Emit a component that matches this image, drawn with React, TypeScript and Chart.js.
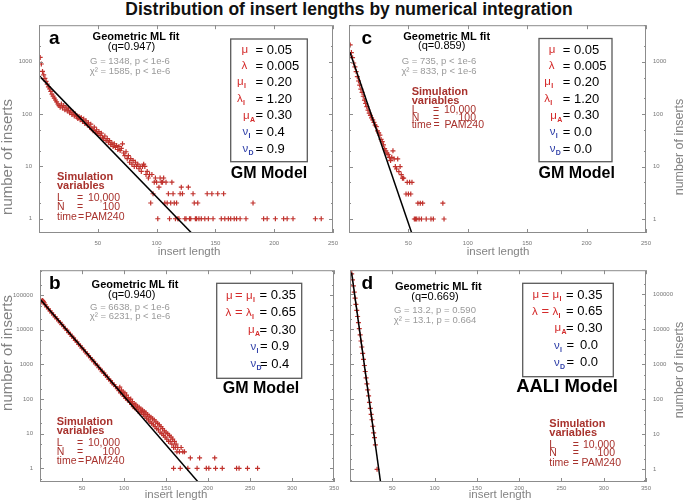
import React, { useEffect, useRef } from 'react';
import { Chart, registerables } from 'chart.js';

Chart.register(...registerables);

const FONT = '"Liberation Sans", Arial, Helvetica, sans-serif';

// ---------------- Panel a ----------------
const aLen = [
  1, 2, 3, 4, 5, 6, 7, 8, 9, 10,
  11, 12, 13, 14, 15, 16, 17, 18, 19, 20,
  21, 22, 23, 24, 25, 26, 27, 28, 29, 30,
  31, 32, 33, 34, 35, 36, 37, 38, 39, 40,
  41, 42, 43, 44, 45, 46, 47, 48, 49, 50,
  51, 52, 53, 54, 55, 56, 57, 58, 59, 60,
  61, 62, 63, 64, 65, 66, 67, 68, 69, 70,
  71, 72, 73, 74, 75, 76, 77, 78, 79, 80,
  81, 82, 83, 84, 85, 86, 87, 88, 89, 90,
  91, 92, 93, 94, 95, 96, 97, 98, 99, 100,
  101, 102, 103, 104, 105, 106, 107, 108, 109, 110,
  111, 112, 113, 114, 115, 116, 117, 118, 119, 120,
  121, 122, 124, 125, 127, 128, 129, 131, 132, 133,
  134, 135, 136, 138, 141, 143, 144, 147, 148, 152,
  155, 157, 158, 161, 163, 166, 168, 171, 176, 182,
  191, 194, 201, 208, 211, 216, 235, 240,
];
const aCount = [
  1200, 900, 650, 560, 480, 420, 370, 330, 300, 270,
  240, 220, 200, 185, 170, 155, 145, 135, 155, 130,
  145, 120, 135, 115, 125, 105, 115, 98, 108, 92,
  100, 88, 82, 90, 78, 85, 72, 80, 66, 74,
  62, 68, 56, 64, 52, 48, 56, 45, 50, 42,
  46, 39, 43, 36, 34, 38, 31, 34, 29, 31,
  26, 28, 24, 27, 23, 25, 21, 24, 20, 22,
  27, 18, 16, 19, 14, 16, 12, 14, 11, 13,
  10, 12, 10, 11, 9, 10, 8, 10, 11, 10,
  7, 8, 6, 7, 2, 7, 3, 5, 6, 5,
  1, 4, 6, 5, 5, 6, 2, 5, 2, 3,
  1, 2, 5, 3, 2, 1, 2, 1, 1, 3,
  4, 3, 1, 1, 4, 1, 1, 3, 2, 1,
  1, 2, 1, 1, 1, 3, 1, 3, 1, 3,
  1, 3, 1, 1, 1, 1, 1, 1, 1, 2,
  1, 1, 1, 1, 1, 1, 1, 1,
];
const aFitLen = [0, 131];
const aFitCount = [540, 0.5];

// ---------------- Panel c ----------------
const cLen = [
  1, 2, 3, 4, 5, 6, 7, 8, 9, 10,
  11, 12, 13, 14, 15, 16, 17, 18, 19, 20,
  21, 22, 23, 24, 25, 26, 27, 28, 29, 30,
  31, 32, 33, 34, 35, 36, 37, 38, 39, 40,
  41, 42, 43, 44, 45, 46, 48, 49, 50, 51,
  52, 53, 55, 56, 57, 58, 59, 60, 61, 62,
  65, 69, 71, 79, 80,
];
const cCount = [
  2100, 1500, 1200, 950, 800, 650, 520, 430, 360, 300,
  260, 220, 185, 160, 140, 120, 105, 95, 85, 78,
  70, 62, 58, 48, 44, 40, 33, 30, 26, 22,
  20, 18, 17, 15, 13, 15, 20, 14, 10, 9,
  14, 8, 10, 7, 6, 6, 3, 5, 3, 5,
  3, 5, 1, 1, 1, 2, 1, 2, 1, 2,
  1, 1, 1, 2, 1,
];
const cFitLen = [0.8, 54];
const cFitCount = [1520, 0.45];

// ---------------- Panel b ----------------
const bLen = [
  1, 2, 3, 4, 5, 6, 8, 10, 12, 14,
  16, 18, 20, 22, 24, 26, 28, 30, 32, 34,
  36, 38, 40, 42, 44, 46, 48, 50, 52, 54,
  56, 58, 60, 62, 64, 66, 68, 70, 72, 74,
  76, 78, 80, 82, 84, 86, 88, 90, 92, 94,
  95, 96, 97, 98, 99, 100, 101, 102, 103, 104,
  105, 106, 107, 108, 109, 110, 111, 112, 113, 114,
  115, 116, 117, 118, 119, 120, 121, 122, 123, 124,
  125, 126, 127, 128, 129, 130, 131, 132, 133, 134,
  135, 136, 137, 138, 139, 140, 141, 142, 143, 144,
  145, 146, 147, 148, 149, 150, 151, 152, 153, 154,
  155, 156, 157, 158, 159, 160, 161, 162, 163, 164,
  166, 168, 170, 172, 159, 167, 176, 179, 187, 190,
  198, 201, 208, 209, 217, 234, 237, 247, 259,
];
const bCount = [
  62000, 68000, 70000, 66000, 60000, 53000, 46000, 40000, 35000, 30500,
  27000, 23500, 21000, 18000, 16300, 14000, 12600, 10800, 9700, 8300,
  7500, 6400, 5800, 4900, 4500, 3800, 3450, 2950, 2650, 2280,
  2050, 1750, 1580, 1350, 1230, 1040, 950, 800, 730, 620,
  570, 480, 440, 370, 340, 290, 260, 230, 200, 175,
  220, 150, 180, 140, 160, 120, 150, 105, 130, 95,
  110, 95, 80, 100, 70, 85, 60, 75, 55, 68,
  50, 62, 45, 58, 40, 52, 42, 48, 36, 44,
  32, 40, 28, 36, 25, 32, 22, 30, 20, 27,
  18, 25, 16, 22, 14, 20, 13, 18, 11, 16,
  10, 14, 9, 12, 8, 11, 7, 10, 6, 9,
  6, 8, 5, 7, 4, 6, 4, 5, 3, 4,
  3, 4, 3, 3, 1, 1, 1, 2, 1, 2,
  1, 1, 2, 1, 1, 1, 1, 1, 1,
];
const bFitLen = [1, 190];
const bFitCount = [72000, 0.36];

// ---------------- Panel d ----------------
const dLen = [
  1, 2, 3, 4, 5, 6, 7, 8, 9, 10,
  11, 12, 13, 14, 15, 16, 17, 18, 19, 20,
  21, 22, 23, 24, 25, 26, 27, 28, 29, 30,
  32,
];
const dCount = [
  480000, 380000, 255000, 172000, 114000, 77000, 51000, 34500, 23000, 15400,
  10300, 6900, 4600, 3100, 2050, 1380, 920, 620, 410, 275,
  185, 125, 82, 55, 37, 26, 17, 11, 8, 5,
  1,
];
const dFitLen = [1.9, 36.5];
const dFitCount = [410000, 0.37];

// ---------------- axes ----------------
const xTicksAC = [0, 50, 100, 150, 200, 250];
const xTicksBD = [0, 50, 100, 150, 200, 250, 300, 350];
const yTicksAC = [1, 10, 100, 1000];
const yTicksBD = [1, 10, 100, 1000, 10000, 100000];

const TITLE = 'Distribution of insert lengths by numerical integration';
const X_TITLE = 'insert length';
const Y_TITLE = 'number of inserts';

const GRAY = '#9a9a9a';
const SIM = '#a8322d';
const RED = '#d42a2a';
const BLUE = '#2f3fa8';
const AX = '#838383';
const MARK = '#c0312c';

type T = {
  t: string; x: number; y: number; size: number; color: string;
  bold?: boolean; align?: CanvasTextAlign; base?: CanvasTextBaseline; rot?: boolean; sub?: string;
};

const tx = (t: string, x: number, y: number, size: number, color: string, o: Partial<T> = {}): T =>
  ({ t, x, y, size, color, ...o });

function simBlock(x0: number, ys: number[], eqX: number, valR: number, tEqX: number, pamX: number): T[] {
  const s = 10.5;
  return [
    tx('Simulation', x0, ys[0], 11, SIM, { bold: true, align: 'left' }),
    tx('variables', x0, ys[1], 11, SIM, { bold: true, align: 'left' }),
    tx('L', x0, ys[2], s, SIM, { align: 'left' }),
    tx('=', eqX, ys[2], s, SIM, { align: 'left' }),
    tx('10,000', valR, ys[2], s, SIM, { align: 'right' }),
    tx('N', x0, ys[3], s, SIM, { align: 'left' }),
    tx('=', eqX, ys[3], s, SIM, { align: 'left' }),
    tx('100', valR, ys[3], s, SIM, { align: 'right' }),
    tx('time', x0, ys[4], s, SIM, { align: 'left' }),
    tx('=', tEqX, ys[4], s, SIM, { align: 'left' }),
    tx('PAM240', pamX, ys[4], s, SIM, { align: 'left' }),
  ];
}

const symA = ['μ', 'λ', 'μ', 'λ', 'μ', 'ν', 'ν'];
const subA = ['', '', 'I', 'I', 'A', 'I', 'D'];
const valsA = ['= 0.05', '= 0.005', '= 0.20', '= 1.20', '= 0.30', '= 0.4', '= 0.9'];
const valsC = ['= 0.05', '= 0.005', '= 0.20', '= 1.20', '= 0.30', '= 0.0', '= 0.0'];

function rows7(dx: number, vals: string[]): T[] {
  const lefts = [241.5, 241.5, 237, 237, 243, 242.5, 242.5];
  const ys = [50, 66, 82.3, 99, 115.7, 132.3, 149];
  const out: T[] = [];
  for (let i = 0; i < 7; i++) {
    out.push(tx(symA[i], lefts[i] + dx, ys[i], 11.5, i < 5 ? RED : BLUE, { align: 'left', sub: subA[i] }));
    out.push(tx(vals[i], 255.5 + dx, ys[i], 13, '#000', { align: 'left' }));
  }
  return out;
}

const panelA: T[] = [
  tx('a', 49, 43.5, 19, '#000', { bold: true, align: 'left', base: 'alphabetic' }),
  tx('Geometric ML fit', 136, 36.5, 11, '#000', { bold: true }),
  tx('(q=0.947)', 131.5, 46.5, 11, '#000'),
  tx('G = 1348, p < 1e-6', 130, 61.7, 9.5, GRAY),
  tx('χ² = 1585, p < 1e-6', 130, 71.7, 9.5, GRAY),
  ...rows7(0, valsA),
  tx('GM Model', 269, 174, 16, '#000', { bold: true }),
  ...simBlock(57, [176.7, 185.5, 197.7, 207.5, 216.7], 77, 120, 78, 85),
  tx(X_TITLE, 189, 251.5, 11.5, AX),
  tx(Y_TITLE, 7.5, 157, 15, AX, { rot: true }),
];

const panelC: T[] = [
  tx('c', 361.5, 43.5, 19, '#000', { bold: true, align: 'left', base: 'alphabetic' }),
  tx('Geometric ML fit', 446.7, 36.5, 11, '#000', { bold: true }),
  tx('(q=0.859)', 441.7, 46, 11, '#000'),
  tx('G = 735, p < 1e-6', 439, 61.7, 9.5, GRAY),
  tx('χ² = 833, p < 1e-6', 439, 71.7, 9.5, GRAY),
  ...rows7(307.2, valsC),
  tx('GM Model', 576.7, 174, 16, '#000', { bold: true }),
  ...simBlock(411.7, [91.7, 100.5, 110, 117.7, 125], 433, 476, 433.5, 444.5),
  tx(X_TITLE, 498, 251.5, 11.5, AX),
  tx(Y_TITLE, 680, 147, 12.5, AX, { rot: true }),
];

function rows5(dx: number, ys: number[], last: boolean): T[] {
  const out: T[] = [
    tx('μ', 226 + dx, ys[0], 11.5, RED, { align: 'left' }),
    tx('=', 235 + dx, ys[0], 13, RED, { align: 'left' }),
    tx('μ', 246 + dx, ys[0], 11.5, RED, { align: 'left', sub: 'I' }),
    tx('= 0.35', 259.5 + dx, ys[0], 13, '#000', { align: 'left' }),
    tx('λ', 225.5 + dx, ys[1], 11.5, RED, { align: 'left' }),
    tx('=', 235 + dx, ys[1], 13, RED, { align: 'left' }),
    tx('λ', 246 + dx, ys[1], 11.5, RED, { align: 'left', sub: 'I' }),
    tx('= 0.65', 259.5 + dx, ys[1], 13, '#000', { align: 'left' }),
    tx('μ', 248 + dx, ys[2], 11.5, RED, { align: 'left', sub: 'A' }),
    tx('= 0.30', 259.5 + dx, ys[2], 13, '#000', { align: 'left' }),
  ];
  if (!last) {
    out.push(tx('ν', 250.5 + dx, ys[3], 11.5, BLUE, { align: 'left', sub: 'I' }));
    out.push(tx('= 0.9', 260 + dx, ys[3], 13, '#000', { align: 'left' }));
    out.push(tx('ν', 250.5 + dx, ys[4], 11.5, BLUE, { align: 'left', sub: 'D' }));
    out.push(tx('= 0.4', 260 + dx, ys[4], 13, '#000', { align: 'left' }));
  } else {
    out.push(tx('ν', 247.5 + dx, ys[3], 11.5, BLUE, { align: 'left', sub: 'I' }));
    out.push(tx('=', 260 + dx, ys[3], 13, '#000', { align: 'left' }));
    out.push(tx('0.0', 273.5 + dx, ys[3], 13, '#000', { align: 'left' }));
    out.push(tx('ν', 247.5 + dx, ys[4], 11.5, BLUE, { align: 'left', sub: 'D' }));
    out.push(tx('=', 260 + dx, ys[4], 13, '#000', { align: 'left' }));
    out.push(tx('0.0', 273.5 + dx, ys[4], 13, '#000', { align: 'left' }));
  }
  return out;
}

const panelB: T[] = [
  tx('b', 49, 288.5, 19, '#000', { bold: true, align: 'left', base: 'alphabetic' }),
  tx('Geometric ML fit', 135, 285, 11, '#000', { bold: true }),
  tx('(q=0.940)', 131.7, 295, 11, '#000'),
  tx('G = 6638, p < 1e-6', 130, 307.3, 9.5, GRAY),
  tx('χ² = 6231, p < 1e-6', 130, 316.7, 9.5, GRAY),
  ...rows5(0, [295.7, 312.7, 330, 346.7, 364], false),
  tx('GM Model', 261, 388.3, 16, '#000', { bold: true }),
  ...simBlock(56.7, [421.7, 430.7, 442.7, 451.7, 460.7], 77, 120, 78, 85),
  tx(X_TITLE, 176, 495, 11.5, AX),
  tx(Y_TITLE, 7.5, 353, 15, AX, { rot: true }),
];

const panelD: T[] = [
  tx('d', 361.5, 288.5, 19, '#000', { bold: true, align: 'left', base: 'alphabetic' }),
  tx('Geometric ML fit', 438.3, 286.7, 11, '#000', { bold: true }),
  tx('(q=0.669)', 435, 296.7, 11, '#000'),
  tx('G = 13.2, p = 0.590', 435, 310, 9.5, GRAY),
  tx('χ² = 13.1, p = 0.664', 435, 320, 9.5, GRAY),
  ...rows5(306.5, [295, 311.7, 328.3, 345.7, 362.7], true),
  tx('AALI Model', 567, 386.7, 18.5, '#000', { bold: true }),
  ...simBlock(549.3, [424.3, 433.3, 445, 453.3, 463.3], 572.7, 615, 572.5, 581.5),
  tx(X_TITLE, 500, 495, 11.5, AX),
  tx(Y_TITLE, 680, 370, 12.5, AX, { rot: true }),
];

type Cfg = {
  key: string; ox: number; oy: number; w: number; h: number;
  area: [number, number, number, number];
  xMax: number; xTicks: number[]; yMin: number; yMax: number; yTicks: number[];
  yPos: 'left' | 'right'; xPad: number;
  xs: number[]; ys: number[]; fx: number[]; fy: number[];
  texts: T[]; box: [number, number, number, number];
};

const panels: Cfg[] = [
  { key: 'a', ox: 0, oy: 20, w: 345, h: 245, area: [39, 24, 333, 233], xMax: 250, xTicks: xTicksAC,
    yMin: 0.535, yMax: 4950, yTicks: yTicksAC, yPos: 'left', xPad: 6.5,
    xs: aLen, ys: aCount, fx: aFitLen, fy: aFitCount, texts: panelA, box: [230.7, 39, 307.3, 161.7] },
  { key: 'c', ox: 340, oy: 20, w: 345, h: 245, area: [349, 24, 646, 233], xMax: 250, xTicks: xTicksAC,
    yMin: 0.54, yMax: 5000, yTicks: yTicksAC, yPos: 'right', xPad: 6.5,
    xs: cLen, ys: cCount, fx: cFitLen, fy: cFitCount, texts: panelC, box: [539, 38.5, 612, 161.7] },
  { key: 'b', ox: 0, oy: 265, w: 345, h: 238, area: [40, 269, 334, 482], xMax: 350, xTicks: xTicksBD,
    yMin: 0.404, yMax: 523000, yTicks: yTicksBD, yPos: 'left', xPad: 3,
    xs: bLen, ys: bCount, fx: bFitLen, fy: bFitCount, texts: panelB, box: [216.7, 283.3, 301.7, 378.3] },
  { key: 'd', ox: 340, oy: 265, w: 345, h: 238, area: [350, 269, 646, 482], xMax: 350, xTicks: xTicksBD,
    yMin: 0.436, yMax: 481000, yTicks: yTicksBD, yPos: 'right', xPad: 3,
    xs: dLen, ys: dCount, fx: dFitLen, fy: dFitCount, texts: panelD, box: [522.7, 283.3, 613.3, 376.7] },
];

function drawT(ctx: CanvasRenderingContext2D, s: T, ox: number, oy: number) {
  ctx.save();
  ctx.font = `${s.bold ? 'bold ' : ''}${s.size}px ${FONT}`;
  ctx.fillStyle = s.color;
  ctx.textAlign = s.align || 'center';
  ctx.textBaseline = s.base || 'middle';
  const x = s.x - ox;
  const y = s.y - oy;
  if (s.rot) {
    ctx.translate(x, y);
    ctx.rotate(-Math.PI / 2);
    ctx.fillText(s.t, 0, 0);
  } else {
    ctx.fillText(s.t, x, y);
    if (s.sub) {
      const w = ctx.measureText(s.t).width;
      ctx.font = `bold 7px ${FONT}`;
      ctx.textAlign = 'left';
      ctx.fillText(s.sub, x + w + 0.3, y + 4);
    }
  }
  ctx.restore();
}

function makeDecor(cfg: Cfg) {
  return {
    id: 'decor' + cfg.key,
    afterDraw(chart: any) {
      const { ctx, chartArea: ca, scales } = chart;
      const xs = scales.x;
      const ys = scales.y;
      ctx.save();
      ctx.strokeStyle = '#8c8c8c';
      ctx.lineWidth = 1;
      ctx.strokeRect(ca.left + 0.5, ca.top + 0.5, ca.right - ca.left - 1, ca.bottom - ca.top - 1);
      ctx.beginPath();
      for (const v of cfg.xTicks) {
        const p = Math.round(xs.getPixelForValue(v)) + 0.5;
        ctx.moveTo(p, ca.bottom);
        ctx.lineTo(p, ca.bottom - 4);
        ctx.moveTo(p, ca.top);
        ctx.lineTo(p, ca.top + 4);
      }
      const decs = [0.1, ...cfg.yTicks];
      for (const d of decs) {
        for (const [m, len] of [[1, 4], [2, 2], [5, 2]]) {
          const v = d * m;
          if (v < ys.min || v > ys.max) continue;
          const p = Math.round(ys.getPixelForValue(v)) + 0.5;
          ctx.moveTo(ca.left, p);
          ctx.lineTo(ca.left + len, p);
          ctx.moveTo(ca.right, p);
          ctx.lineTo(ca.right - len, p);
        }
      }
      ctx.stroke();
      const [bl, bt, br, bb] = cfg.box;
      ctx.strokeStyle = '#5a5a5a';
      ctx.lineWidth = 1.3;
      ctx.strokeRect(bl - cfg.ox, bt - cfg.oy, br - bl, bb - bt);
      ctx.restore();
      for (const s of cfg.texts) drawT(ctx, s, cfg.ox, cfg.oy);
    },
  };
}

function Panel({ cfg }: { cfg: Cfg }) {
  const ref = useRef<HTMLCanvasElement>(null);
  useEffect(() => {
    const [l, t, r, b] = cfg.area;
    const left = cfg.yPos === 'left';
    const yW = left ? l - cfg.ox : cfg.ox + cfg.w - r;
    const xH = cfg.oy + cfg.h - b;
    const pts = cfg.xs.map((x, i) => ({ x, y: cfg.ys[i] }));
    const fit = cfg.fx.map((x, i) => ({ x, y: cfg.fy[i] }));
    const chart = new Chart(ref.current as HTMLCanvasElement, {
      type: 'scatter',
      data: {
        datasets: [
          {
            data: fit, showLine: true, pointRadius: 0, borderColor: '#000', borderWidth: 1.5,
            backgroundColor: '#000',
          } as any,
          {
            data: pts, pointStyle: 'cross', pointRadius: 2.5, borderWidth: 1.2,
            borderColor: MARK, backgroundColor: MARK,
          } as any,
        ],
      },
      options: {
        responsive: false,
        maintainAspectRatio: false,
        animation: false,
        devicePixelRatio: 1,
        events: [],
        layout: {
          padding: {
            left: left ? 0 : l - cfg.ox,
            right: left ? cfg.ox + cfg.w - r : 0,
            top: t - cfg.oy,
            bottom: 0,
          },
        },
        plugins: { legend: { display: false }, tooltip: { enabled: false }, title: { display: false } },
        scales: {
          x: {
            type: 'linear', min: 0, max: cfg.xMax,
            grid: { display: false, drawTicks: false },
            border: { display: false },
            ticks: {
              stepSize: 50, autoSkip: false, maxRotation: 0, padding: cfg.xPad,
              color: '#777', font: { family: FONT, size: 6 },
              callback: (v: any) => (Number(v) === 0 ? '' : String(v)),
            },
            afterFit: (s: any) => {
              s.height = xH;
              s.paddingLeft = 0; s.paddingRight = 0; s.paddingTop = 0; s.paddingBottom = 0;
            },
          },
          y: {
            type: 'logarithmic', position: cfg.yPos, min: cfg.yMin, max: cfg.yMax, bounds: 'data',
            grid: { display: false, drawTicks: false },
            border: { display: false },
            ticks: {
              autoSkip: false, padding: 7, color: '#777', font: { family: FONT, size: 6 },
              callback: (v: any) => String(v),
            },
            afterBuildTicks: (s: any) => {
              s.ticks = cfg.yTicks.filter((v) => v >= s.min && v <= s.max).map((v) => ({ value: v }));
            },
            afterFit: (s: any) => {
              s.width = yW;
              s.paddingLeft = 0; s.paddingRight = 0; s.paddingTop = 0; s.paddingBottom = 0;
            },
          },
        },
      } as any,
      plugins: [makeDecor(cfg)],
    });
    return () => chart.destroy();
  }, [cfg]);
  return (
    <canvas
      ref={ref}
      width={cfg.w}
      height={cfg.h}
      style={{ position: 'absolute', left: cfg.ox, top: cfg.oy, width: cfg.w, height: cfg.h }}
    />
  );
}

export default function App() {
  return (
    <div style={{ position: 'absolute', left: 0, top: 0, width: 685, height: 503, background: '#fff', overflow: 'hidden' }}>
      <div
        style={{
          position: 'absolute', left: 0, top: -1, width: 698, textAlign: 'center',
          font: `bold 17.5px ${FONT}`, lineHeight: '20px', color: '#111', whiteSpace: 'nowrap',
        }}
      >
        {TITLE}
      </div>
      {panels.map((p) => (
        <Panel key={p.key} cfg={p} />
      ))}
    </div>
  );
}
